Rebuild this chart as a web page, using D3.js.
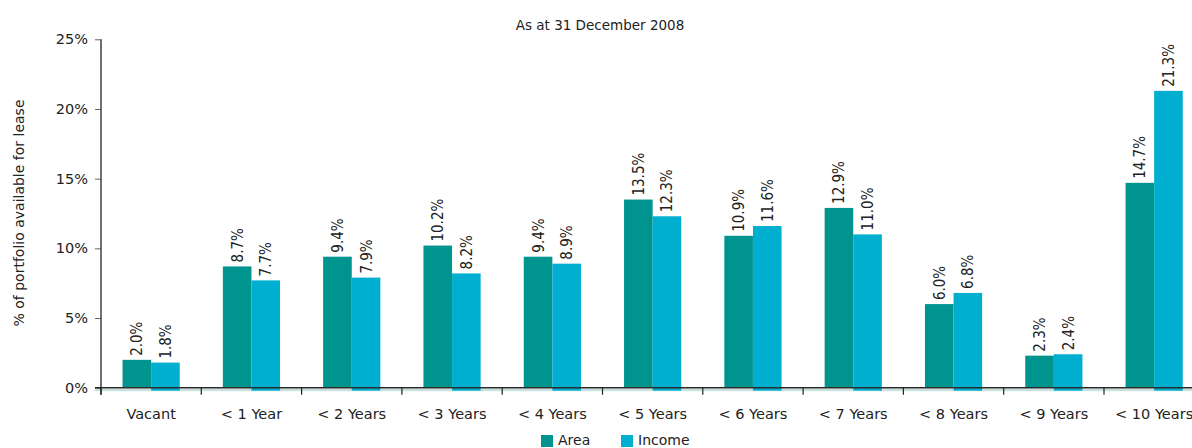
<!DOCTYPE html>
<html>
<head>
<meta charset="utf-8">
<script src="https://cdn.jsdelivr.net/npm/d3@7"></script>
<style>
  html, body { margin: 0; padding: 0; background: #fff; }
  svg { display: block; font-family: "DejaVu Sans", Verdana, sans-serif; }
</style>
</head>
<body>
<svg id="chart" width="1192" height="448"></svg>
<script>
// Lease expiry profile, as at 31 December 2008
const categories = ["Vacant", "< 1 Year", "< 2 Years", "< 3 Years", "< 4 Years", "< 5 Years",
                    "< 6 Years", "< 7 Years", "< 8 Years", "< 9 Years", "< 10 Years"];
const areaValues   = [2.0, 8.7, 9.4, 10.2, 9.4, 13.5, 10.9, 12.9, 6.0, 2.3, 14.7];
const incomeValues = [1.8, 7.7, 7.9, 8.2, 8.9, 12.3, 11.6, 11.0, 6.8, 2.4, 21.3];
const seriesNames  = ["Area", "Income"];
const yTicks       = [0, 5, 10, 15, 20, 25];

const colors = { Area: "#00948f", Income: "#00aecf" };
const textColor = "#222";

const svg = d3.select("#chart");

const margin = { left: 101, top: 39.3, bottom: 387.7 };
const x = d3.scaleBand().domain(categories).range([101, 1204.3]).paddingInner(0).paddingOuter(0);
const y = d3.scaleLinear().domain([0, 25]).range([387.7, 39.3]);
const barW = 28.6;
const rows = categories.map((c, i) => ({ cat: c, Area: areaValues[i], Income: incomeValues[i] }));

// title
svg.append("text")
  .attr("x", 600).attr("y", 30)
  .attr("text-anchor", "middle")
  .attr("font-size", 13.5)
  .attr("fill", textColor)
  .text("As at 31 December 2008");

// y axis title
svg.append("text")
  .attr("transform", "translate(24,213) rotate(-90)")
  .attr("text-anchor", "middle")
  .attr("font-size", 14)
  .attr("fill", textColor)
  .text("% of portfolio available for lease");

// shadow band under the baseline
svg.append("rect")
  .attr("x", 95).attr("y", y(0) + 1)
  .attr("width", 1192 - 95).attr("height", 2.5)
  .attr("fill", "#c9e0de");

// bars
const offsets = { Area: -barW, Income: 0 };
seriesNames.forEach(s => {
  svg.append("g").selectAll("rect")
    .data(rows)
    .join("rect")
    .attr("x", d => x(d.cat) + x.bandwidth() / 2 + offsets[s])
    .attr("y", d => y(d[s]))
    .attr("width", barW)
    .attr("height", d => y(0) - y(d[s]) + (s === "Income" ? 3 : 0))
    .attr("fill", colors[s]);
});

// y axis
const yAxis = svg.append("g")
  .attr("transform", `translate(${margin.left},0)`)
  .call(d3.axisLeft(y).tickValues(yTicks).tickFormat(d => d + "%").tickSize(6).tickPadding(7))
  .call(g => g.select(".domain").remove());
yAxis.selectAll("line").attr("stroke", "#666");
yAxis.selectAll("text").attr("font-size", 14.5).attr("fill", textColor)
  .attr("font-family", "DejaVu Sans, sans-serif");
svg.append("line")
  .attr("x1", margin.left).attr("x2", margin.left)
  .attr("y1", y(25)).attr("y2", y(0) + 7)
  .attr("stroke", "#222").attr("stroke-width", 1.3);

// x axis baseline
svg.append("line")
  .attr("x1", 95).attr("x2", 1192)
  .attr("y1", y(0)).attr("y2", y(0))
  .attr("stroke", "#2a2a2a").attr("stroke-width", 1.6);

// x ticks at band boundaries
svg.append("g").selectAll("line")
  .data(categories)
  .join("line")
  .attr("x1", d => x(d)).attr("x2", d => x(d))
  .attr("y1", y(0)).attr("y2", y(0) + 7)
  .attr("stroke", "#222").attr("stroke-width", 1.2);

// category labels
svg.append("g").selectAll("text")
  .data(categories)
  .join("text")
  .attr("x", d => x(d) + x.bandwidth() / 2)
  .attr("y", 419)
  .attr("text-anchor", "middle")
  .attr("font-size", 14.5)
  .attr("fill", textColor)
  .text(d => d);

// value labels, rotated
seriesNames.forEach(s => {
  svg.append("g").selectAll("text")
    .data(rows)
    .join("text")
    .attr("transform", d => {
      const cx = x(d.cat) + x.bandwidth() / 2 + offsets[s] + barW / 2 + 5.5;
      return `translate(${cx},${y(d[s]) - 4}) rotate(-90)`;
    })
    .attr("font-size", 15)
    .attr("font-family", "DejaVu Sans Condensed, DejaVu Sans, sans-serif")
    .attr("font-stretch", "condensed")
    .attr("fill", textColor)
    .text(d => d[s].toFixed(1) + "%");
});

// legend
const legend = svg.append("g");
const legendItems = [{ name: "Area", x: 541 }, { name: "Income", x: 621 }];
legendItems.forEach(it => {
  legend.append("rect")
    .attr("x", it.x).attr("y", 435)
    .attr("width", 12).attr("height", 12)
    .attr("fill", colors[it.name]);
  legend.append("text")
    .attr("x", it.x + 17).attr("y", 445)
    .attr("font-size", 14)
    .attr("fill", textColor)
    .text(it.name);
});
</script>
</body>
</html>
